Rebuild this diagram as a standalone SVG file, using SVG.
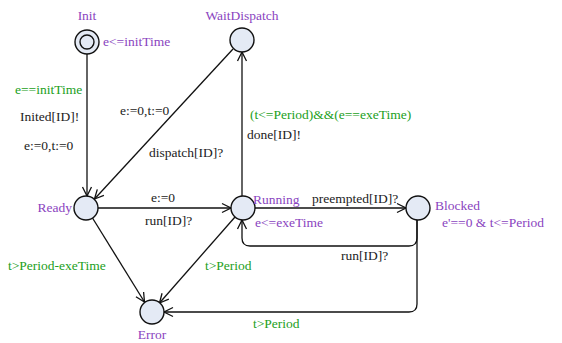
<svg xmlns="http://www.w3.org/2000/svg" width="562" height="343" viewBox="0 0 562 343">
<style>
text{font-family:"Liberation Serif","Times New Roman",serif;font-size:13.5px}
.n{fill:#8a44c0}.g{fill:#22a022}.k{fill:#222}
.loc{fill:#e4eaf5;stroke:#111;stroke-width:1.4}
.e{fill:none;stroke:#111;stroke-width:1.3;marker-end:url(#a)}
</style>
<defs>
<marker id="a" viewBox="0 0 12 12" refX="11" refY="6" markerWidth="12" markerHeight="12" markerUnits="userSpaceOnUse" orient="auto">
<polyline points="2,1.5 11,6 2,10.5" fill="none" stroke="#111" stroke-width="1.3"/>
</marker>
</defs>
<rect width="562" height="343" fill="#fff"/>
<g id="connectors">
<path class="e" d="M87,54 V196"/>
<path class="e" d="M233,49 L94.5,199"/>
<path class="e" d="M242,196 V52"/>
<path class="e" d="M98,208 H231"/>
<path class="e" d="M255,208 H406"/>
<path class="e" d="M417,220 V238 Q417,246 409,246 H250 Q242,246 242,238 V220"/>
<path class="e" d="M417,220 V304 Q417,312 409,312 H164"/>
<path class="e" d="M92.5,218 L144.5,302"/>
<path class="e" d="M235,217 L159.5,303"/>
</g>
<g id="Init">
<circle class="loc" cx="87" cy="42" r="12"/>
<circle class="loc" cx="87" cy="42" r="7"/>
<text class="n" x="87" y="20" text-anchor="middle">Init</text>
<text class="n" x="103" y="46">e&lt;=initTime</text>
</g>
<g id="WaitDispatch">
<circle class="loc" cx="242" cy="40" r="12"/>
<text class="n" x="242" y="20" text-anchor="middle">WaitDispatch</text>
</g>
<g id="Ready">
<circle class="loc" cx="86" cy="208" r="12"/>
<text class="n" x="72" y="212" text-anchor="end">Ready</text>
</g>
<g id="Running">
<circle class="loc" cx="243" cy="208" r="12"/>
<text class="n" x="253" y="204">Running</text>
<text class="n" x="255" y="227">e&lt;=exeTime</text>
</g>
<g id="Blocked">
<circle class="loc" cx="418" cy="208" r="12"/>
<text class="n" x="435" y="210">Blocked</text>
<text class="n" x="442" y="227">e'==0 &amp; t&lt;=Period</text>
</g>
<g id="Error">
<circle class="loc" cx="152" cy="312" r="12"/>
<text class="n" x="152" y="339" text-anchor="middle">Error</text>
</g>
<g id="labels">
<text class="g" x="15" y="94">e==initTime</text>
<text class="k" x="20" y="121">Inited[ID]!</text>
<text class="k" x="24" y="150">e:=0,t:=0</text>
<text class="k" x="120" y="115">e:=0,t:=0</text>
<text class="k" x="149" y="157">dispatch[ID]?</text>
<text class="g" x="250" y="119">(t&lt;=Period)&amp;&amp;(e==exeTime)</text>
<text class="k" x="247" y="139">done[ID]!</text>
<text class="k" x="151" y="202">e:=0</text>
<text class="k" x="145" y="225">run[ID]?</text>
<text class="g" x="8" y="270">t&gt;Period-exeTime</text>
<text class="g" x="205" y="270">t&gt;Period</text>
<text class="k" x="312" y="203">preempted[ID]?</text>
<text class="k" x="341" y="260">run[ID]?</text>
<text class="g" x="253" y="328">t&gt;Period</text>
</g>
</svg>
